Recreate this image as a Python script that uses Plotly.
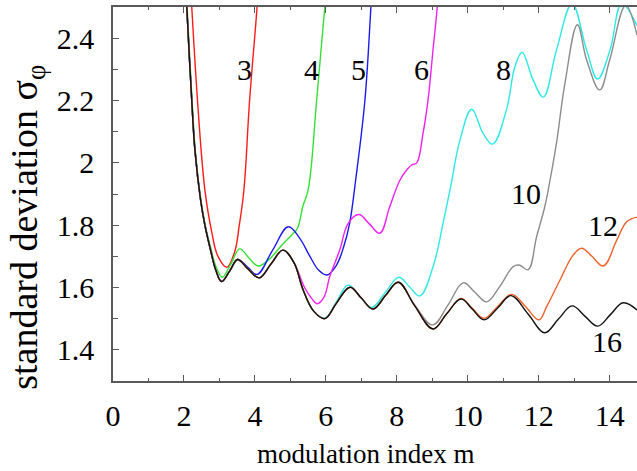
import plotly.graph_objects as go

# ---- data ----
n3_x = [2.15, 2.22, 2.40, 2.59, 2.78, 2.96, 3.21, 3.43, 3.56, 3.69, 3.85, 4.06, 4.12]
n3_y = [2.65, 2.50, 2.17, 1.913, 1.78, 1.70, 1.665, 1.715, 1.80, 1.913, 2.20, 2.50, 2.62]

n4_x = [2.03, 2.09, 2.23, 2.32, 2.48, 2.60, 2.76, 2.91, 3.08, 3.32, 3.57, 3.83, 4.09, 4.40, 4.75,
        5.05, 5.20, 5.35, 5.50, 5.74, 5.97, 6.05]
n4_y = [2.65, 2.50, 2.20, 2.04, 1.88, 1.80, 1.725, 1.665, 1.633, 1.675, 1.724, 1.695, 1.669, 1.69, 1.735,
        1.77, 1.79, 1.86, 1.913, 2.20, 2.50, 2.62]

n5_x = [2.02, 2.08, 2.22, 2.31, 2.47, 2.59, 2.75, 2.90, 3.06, 3.30, 3.51, 3.80, 4.06, 4.50, 4.94,
        5.25, 5.55, 5.80, 6.03, 6.30, 6.50, 6.67, 6.84, 7.10, 7.27, 7.35]
n5_y = [2.65, 2.50, 2.20, 2.04, 1.88, 1.80, 1.72, 1.655, 1.62, 1.655, 1.69, 1.665, 1.642, 1.72, 1.795,
        1.76, 1.70, 1.655, 1.64, 1.672, 1.73, 1.806, 1.945, 2.20, 2.50, 2.65]

n6_x = [2.02, 2.08, 2.22, 2.31, 2.47, 2.59, 2.75, 2.90, 3.06, 3.30, 3.51, 3.80, 4.12, 4.45, 4.79,
        5.10, 5.40, 5.60, 5.76, 5.95, 6.11, 6.39, 6.63, 6.93, 7.22, 7.52, 7.80, 8.09, 8.30, 8.42,
        8.56, 8.74, 8.88, 9.02, 9.14, 9.20]
n6_y = [2.65, 2.50, 2.20, 2.04, 1.88, 1.80, 1.72, 1.655, 1.619, 1.655, 1.69, 1.66, 1.631, 1.675, 1.72,
        1.68, 1.60, 1.565, 1.548, 1.57, 1.635, 1.72, 1.806, 1.834, 1.805, 1.774, 1.859, 1.945, 1.98, 1.993,
        2.00, 2.095, 2.202, 2.362, 2.50, 2.60]

n8_x = [2.02, 2.08, 2.22, 2.31, 2.47, 2.59, 2.75, 2.90, 3.06, 3.30, 3.51, 3.80, 4.12, 4.45, 4.79,
        5.10, 5.36, 5.65, 5.97, 6.30, 6.63, 6.95, 7.29, 7.68, 8.06, 8.35, 8.65, 9.03, 9.31, 9.52,
        9.78, 10.11, 10.43, 10.70, 11.09, 11.33, 11.53, 11.84, 12.13, 12.50, 12.94, 13.35, 13.66, 14.01,
        14.34, 14.77]
n8_y = [2.65, 2.50, 2.20, 2.04, 1.88, 1.80, 1.72, 1.655, 1.619, 1.655, 1.69, 1.66, 1.631, 1.675, 1.72,
        1.68, 1.592, 1.525, 1.502, 1.555, 1.608, 1.572, 1.536, 1.585, 1.633, 1.603, 1.573, 1.67, 1.81, 1.925,
        2.073, 2.172, 2.095, 2.06, 2.17, 2.309, 2.355, 2.266, 2.211, 2.362, 2.51, 2.362, 2.269, 2.362,
        2.51, 2.44]

n10_x = [2.02, 2.08, 2.22, 2.31, 2.47, 2.59, 2.75, 2.90, 3.06, 3.30, 3.51, 3.80, 4.12, 4.45, 4.79,
         5.10, 5.36, 5.65, 5.97, 6.30, 6.68, 7.00, 7.33, 7.68, 8.04, 8.50, 9.01, 9.45, 9.87, 10.20,
         10.53, 10.90, 11.28, 11.45, 11.70, 11.94, 12.17, 12.32, 12.50, 12.74, 13.09, 13.35, 13.72, 14.00,
         14.45, 14.77]
n10_y = [2.65, 2.50, 2.20, 2.04, 1.88, 1.80, 1.72, 1.655, 1.619, 1.655, 1.69, 1.66, 1.631, 1.675, 1.72,
         1.68, 1.592, 1.525, 1.50, 1.55, 1.601, 1.566, 1.531, 1.574, 1.617, 1.545, 1.48, 1.545, 1.615, 1.585,
         1.554, 1.603, 1.667, 1.672, 1.657, 1.763, 1.859, 1.945, 2.063, 2.256, 2.443, 2.33, 2.234, 2.33,
         2.505, 2.41]

n12_x = [2.02, 2.08, 2.22, 2.31, 2.47, 2.59, 2.75, 2.90, 3.06, 3.30, 3.51, 3.80, 4.12, 4.45, 4.79,
         5.10, 5.36, 5.65, 5.97, 6.30, 6.68, 7.00, 7.33, 7.68, 8.04, 8.50, 9.02, 9.40, 9.81, 10.13,
         10.46, 10.85, 11.24, 11.62, 12.01, 12.22, 12.60, 12.97, 13.21, 13.50, 13.82, 14.20, 14.48, 14.77]
n12_y = [2.65, 2.50, 2.20, 2.04, 1.88, 1.80, 1.72, 1.655, 1.619, 1.655, 1.69, 1.66, 1.631, 1.675, 1.72,
         1.68, 1.592, 1.525, 1.50, 1.55, 1.601, 1.566, 1.531, 1.574, 1.617, 1.542, 1.467, 1.515, 1.565, 1.533,
         1.501, 1.54, 1.578, 1.54, 1.496, 1.538, 1.624, 1.704, 1.726, 1.70, 1.669, 1.752, 1.811, 1.826]

n16_x = [2.02, 2.08, 2.22, 2.31, 2.47, 2.59, 2.75, 2.90, 3.06, 3.30, 3.51, 3.80, 4.12, 4.45, 4.79,
         5.10, 5.36, 5.65, 5.97, 6.30, 6.68, 7.00, 7.33, 7.68, 8.04, 8.50, 9.02, 9.40, 9.81, 10.13,
         10.46, 10.85, 11.22, 11.70, 12.17, 12.55, 12.94, 13.30, 13.66, 14.02, 14.38, 14.77]
n16_y = [2.65, 2.50, 2.20, 2.04, 1.88, 1.80, 1.72, 1.655, 1.619, 1.655, 1.69, 1.66, 1.631, 1.675, 1.72,
         1.68, 1.592, 1.525, 1.50, 1.55, 1.601, 1.566, 1.531, 1.574, 1.617, 1.542, 1.467, 1.515, 1.563, 1.53,
         1.496, 1.535, 1.574, 1.515, 1.455, 1.498, 1.541, 1.508, 1.476, 1.513, 1.551, 1.528]

label_text = ["3", "4", "5", "6", "8", "10", "12", "16"]
label_x = [3.71, 5.59, 6.91, 8.70, 11.0, 11.64, 13.82, 13.93]
label_y = [2.298, 2.298, 2.298, 2.298, 2.298, 1.902, 1.80, 1.426]

x_tick_vals = [0, 2, 4, 6, 8, 10, 12, 14]
y_tick_vals = [1.4, 1.6, 1.8, 2.0, 2.2, 2.4]
y_tick_text = ["1.4", "1.6", "1.8", "2", "2.2", "2.4"]

x_title = "modulation index m"
y_title = "standard deviation σ<sub>φ</sub>"

series = [
    (n3_x, n3_y, "#ff1a1a"),
    (n4_x, n4_y, "#33e033"),
    (n5_x, n5_y, "#1a1aee"),
    (n6_x, n6_y, "#ee22ee"),
    (n8_x, n8_y, "#2ee8e8"),
    (n10_x, n10_y, "#8c8c8c"),
    (n12_x, n12_y, "#f0602a"),
    (n16_x, n16_y, "#111111"),
]

FONT = "Liberation Serif"

fig = go.Figure()
for (xs, ys, col) in series:
    fig.add_trace(go.Scatter(x=xs, y=ys, mode="lines",
                             line=dict(color=col, width=1.4, shape="spline", smoothing=1.1),
                             showlegend=False, hoverinfo="skip"))

for t, lx, ly in zip(label_text, label_x, label_y):
    fig.add_annotation(x=lx, y=ly, text=t, showarrow=False,
                       font=dict(family=FONT, size=30, color="black"),
                       xanchor="center", yanchor="middle")

fig.add_annotation(xref="paper", yref="paper", x=0.481, y=-0.195, text=x_title,
                   showarrow=False, font=dict(family=FONT, size=27, color="black"),
                   xanchor="center", yanchor="middle")
fig.add_annotation(xref="paper", yref="paper", x=-0.164, y=0.41, text=y_title,
                   showarrow=False, textangle=-90, font=dict(family=FONT, size=38, color="black"),
                   xanchor="center", yanchor="middle")

axis_col = "#5a5a5a"
fig.update_xaxes(range=[0, 14.77], showgrid=False, zeroline=False, automargin=False,
                 showline=True, linecolor=axis_col, linewidth=1.5, mirror="ticks",
                 ticks="inside", ticklen=6, tickwidth=1.3, tickcolor=axis_col,
                 tickvals=x_tick_vals,
                 minor=dict(ticks="inside", ticklen=3, tickwidth=1.2, tickcolor=axis_col, dtick=1, tick0=0),
                 tickfont=dict(family=FONT, size=30, color="black"),
                 ticklabelstandoff=7)
fig.update_yaxes(range=[1.3, 2.5], showgrid=False, zeroline=False, automargin=False,
                 showline=True, linecolor=axis_col, linewidth=1.5, mirror=False,
                 ticks="inside", ticklen=6, tickwidth=1.3, tickcolor=axis_col,
                 tickvals=y_tick_vals, ticktext=y_tick_text,
                 minor=dict(ticks="inside", ticklen=5, tickwidth=1.2, tickcolor=axis_col, dtick=0.1, tick0=1.3),
                 tickfont=dict(family=FONT, size=30, color="black"),
                 ticklabelstandoff=11)

fig.update_layout(width=637, height=471, margin=dict(l=113, r=0, t=7, b=90),
                  paper_bgcolor="white", plot_bgcolor="white",
                  font=dict(family=FONT))

fig.write_html("out.html", config={"displayModeBar": False},
               post_script="document.body.style.margin='0';document.body.style.padding='0';")
